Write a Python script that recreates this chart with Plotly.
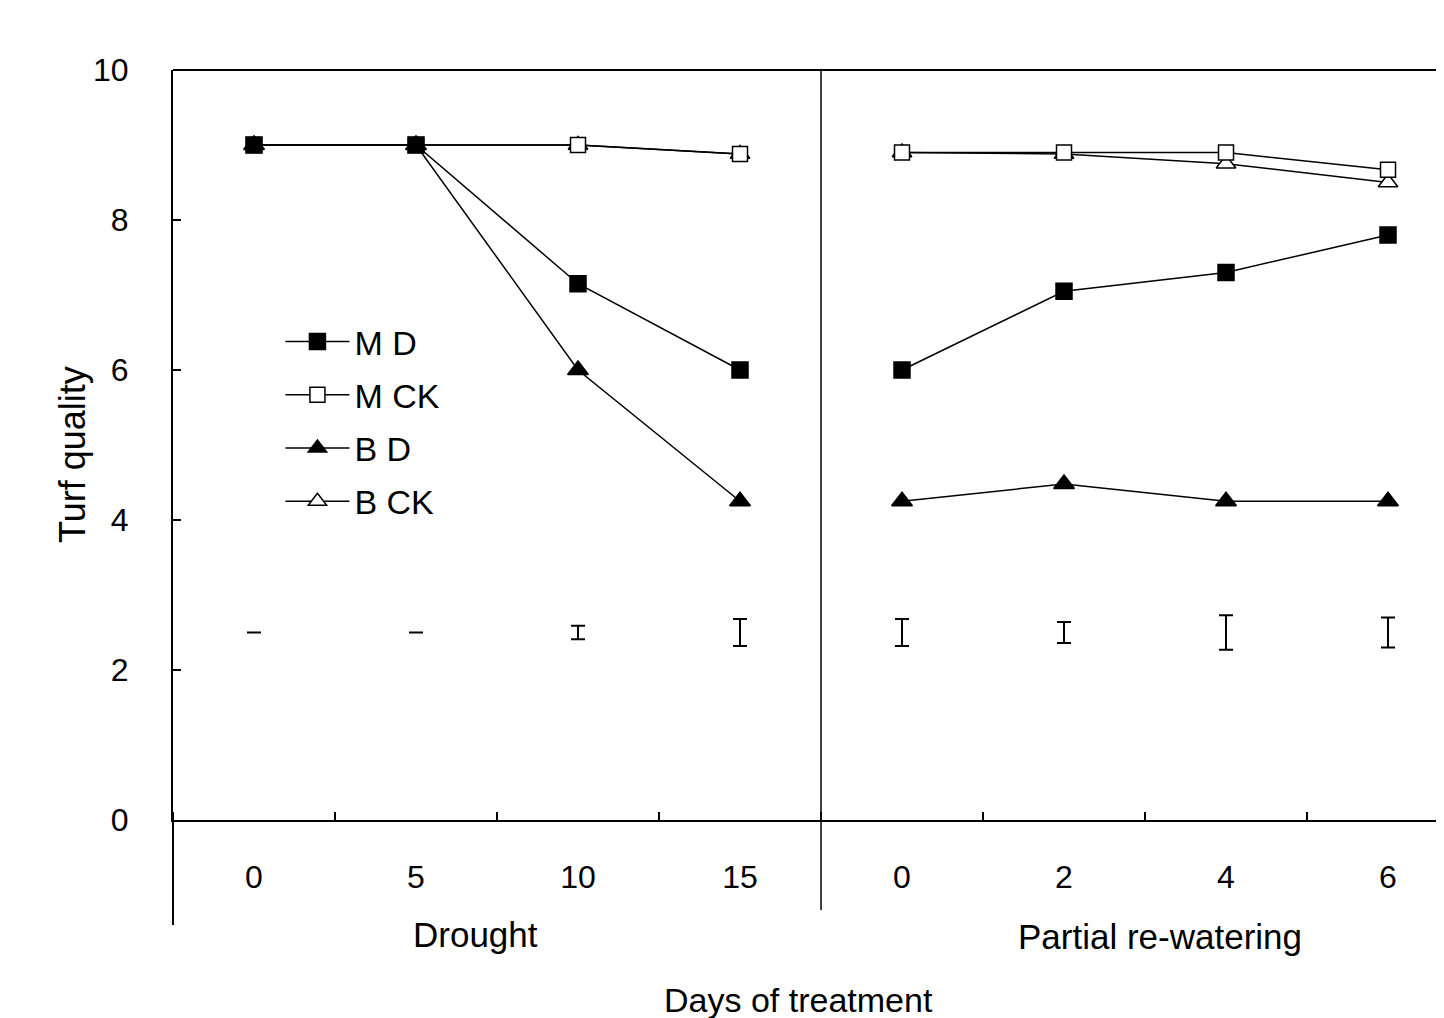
import plotly.graph_objects as go

# ---- data ----
phase_labels = ["Drought", "Partial re-watering"]
drought_days = ["0", "5", "10", "15"]
rewater_days = ["0", "2", "4", "6"]
tick_labels = drought_days + rewater_days

series_names = ["M D", "M CK", "B D", "B CK"]
md = [9.0, 9.0, 7.15, 6.0, 6.0, 7.05, 7.3, 7.8]
mck = [9.0, 9.0, 9.0, 8.88, 8.9, 8.9, 8.9, 8.67]
bd = [9.0, 9.0, 6.0, 4.25, 4.25, 4.48, 4.25, 4.25]
bck = [9.0, 9.0, 9.0, 8.88, 8.9, 8.88, 8.75, 8.5]

lsd_level = [2.5, 2.5, 2.5, 2.5, 2.5, 2.5, 2.5, 2.5]
lsd_half = [0.0, 0.0, 0.09, 0.18, 0.18, 0.14, 0.23, 0.2]

FONT = "Liberation Sans, Arial, sans-serif"
n_d = len(drought_days)
xs = list(range(len(tick_labels)))

styles = {
    "M D": dict(symbol="square", color="black", size=16),
    "M CK": dict(symbol="square", color="white", size=15),
    "B D": dict(symbol="triangle-up", color="black", size=18),
    "B CK": dict(symbol="triangle-up", color="white", size=17),
}
values = {"M D": md, "M CK": mck, "B D": bd, "B CK": bck}

fig = go.Figure()

# draw order: BCK, BD, MCK, MD (MD on top); legend order via legendrank
draw_order = ["B CK", "B D", "M CK", "M D"]
for name in draw_order:
    st = styles[name]
    vals = values[name]
    rank = series_names.index(name) + 1
    for seg, (xx, yy) in enumerate([(xs[:n_d], vals[:n_d]), (xs[n_d:], vals[n_d:])]):
        fig.add_trace(go.Scatter(
            x=xx, y=yy, mode="lines+markers", name=name,
            legendgroup=name, showlegend=(seg == 0), legendrank=rank,
            line=dict(color="black", width=1.5),
            marker=dict(symbol=st["symbol"], size=st["size"], color=st["color"],
                        line=dict(color="black", width=1.5)),
        ))

# LSD bars
fig.add_trace(go.Scatter(
    x=xs, y=lsd_level, mode="markers", showlegend=False,
    marker=dict(size=1, color="rgba(0,0,0,0)"),
    error_y=dict(type="data", array=lsd_half, visible=True,
                 color="black", thickness=2, width=7),
))

axis_font = dict(family=FONT, size=32, color="black")

fig.update_layout(
    width=1444, height=1018,
    margin=dict(l=165, r=0, t=62, b=206),
    plot_bgcolor="white", paper_bgcolor="white",
    showlegend=True,
    legend=dict(x=0.084, y=0.676, xanchor="left", yanchor="top",
                bgcolor="rgba(0,0,0,0)", font=dict(family=FONT, size=34, color="black"),
                tracegroupgap=6, itemwidth=64),
    xaxis=dict(range=[-0.5, 7.395], tickmode="array", tickvals=xs, ticktext=tick_labels,
               ticks="", showline=True, linecolor="black", linewidth=2,
               showgrid=False, zeroline=False, tickfont=axis_font,
               ticklabelstandoff=28,
               minor=dict(tickmode="linear", tick0=0.5, dtick=1, ticks="inside",
                          ticklen=8, tickwidth=1.5, tickcolor="black")),
    yaxis=dict(range=[0, 10], tickmode="array", tickvals=[0, 2, 4, 6, 8, 10],
               ticks="inside", ticklen=8, tickwidth=1.5, tickcolor="black",
               showline=True, linecolor="black", linewidth=2,
               showgrid=False, zeroline=False, tickfont=axis_font,
               ticklabelstandoff=36),
)

shapes = [
    # top border
    dict(type="line", xref="paper", yref="paper", x0=0, x1=1, y0=1, y1=1,
         line=dict(color="black", width=2)),
    # left axis extension below zero
    dict(type="line", xref="paper", yref="paper", x0=0, x1=0, y0=0, y1=-0.14,
         line=dict(color="black", width=2)),
    # divider between phases
    dict(type="line", xref="x", yref="paper", x0=n_d - 0.5, x1=n_d - 0.5, y0=1, y1=-0.12,
         line=dict(color="black", width=1.5)),
]
fig.update_layout(shapes=shapes)

label_font = dict(family=FONT, size=35, color="black")
fig.add_annotation(x=1.37, y=-0.153, xref="x", yref="paper", text=phase_labels[0],
                   showarrow=False, font=label_font, xanchor="center", yanchor="middle")
fig.add_annotation(x=5.59, y=-0.156, xref="x", yref="paper", text=phase_labels[1],
                   showarrow=False, font=label_font, xanchor="center", yanchor="middle")
fig.add_annotation(x=0.489, y=-0.24, xref="paper", yref="paper", text="Days of treatment",
                   showarrow=False, font=dict(family=FONT, size=34, color="black"),
                   xanchor="center", yanchor="middle")
fig.add_annotation(x=-0.078, y=0.487, xref="paper", yref="paper", text="Turf quality",
                   showarrow=False, font=dict(family=FONT, size=36, color="black"),
                   textangle=-90, xanchor="center", yanchor="middle")

fig.write_html("out.html")
